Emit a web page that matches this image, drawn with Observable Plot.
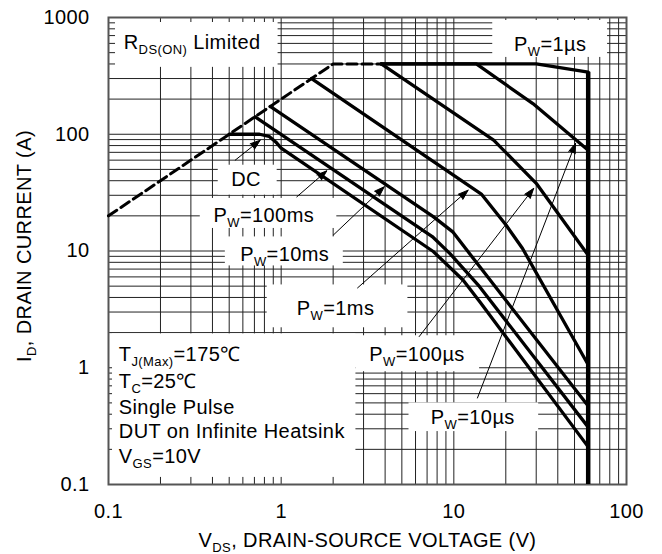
<!DOCTYPE html>
<html>
<head>
<meta charset="utf-8">
<script src="https://cdn.jsdelivr.net/npm/d3@7"></script>
<script src="https://cdn.jsdelivr.net/npm/@observablehq/plot@0.6"></script>
<style>
  body { margin: 0; background: #fff; }
  #chart { width: 662px; height: 554px; }
</style>
</head>
<body>
<div id="chart"></div>
<script>
// ---------- axis ticks ----------
const ticksX = [0.1, 1, 10, 100];
const ticksY = [0.1, 1, 10, 100, 1000];
const gridMult = [1, 2, 3, 4, 5, 6, 7, 8, 9];
const decadesX = [0.1, 1, 10];
const decadesY = [0.1, 1, 10, 100];

// ---------- RDS(ON) limit (dashed) ----------
const rdsV = [0.1, 2, 3.8];
const rdsI = [20, 400, 400];

// ---------- SOA curves (V, A) ----------
const seriesNames = ["1µs", "10µs", "100µs", "1ms", "10ms", "100ms", "DC"];
const v_1us   = [3.8, 30, 60];
const i_1us   = [400, 400, 340];
const v_10us  = [3.8, 13.5, 28.7, 60];
const i_10us  = [400, 400, 183, 73];
const v_100us = [3.8, 17, 30, 60];
const i_100us = [400, 89, 38, 9.2];
const v_1ms   = [1.5, 14.5, 20, 25, 60];
const i_1ms   = [300, 30.5, 16.8, 10.5, 1.06];
const v_10ms  = [0.864, 7.6, 9.9, 14.1, 60];
const i_10ms  = [173, 19.7, 14.5, 7.35, 0.47];
const v_100ms = [0.707, 7.5, 9.5, 14.1, 60];
const i_100ms = [141, 13.3, 9.5, 4.95, 0.31];
const v_DC    = [0.5, 0.75, 0.85, 0.93, 1.0, 7.6, 11.3, 14.1, 60];
const i_DC    = [100, 100, 96, 86, 76, 9.9, 5.65, 3.69, 0.21];

// BVDSS limit (thick vertical)
const vBreak = 60, iBreakTop = 340, iBreakBottom = 0.1;

// ---------- annotation arrows (tail -> tip) ----------
const arrowFor = ["DC", "100ms", "10ms", "1ms", "100µs", "10µs"];
const arrowV1 = [0.542, 1.232, 2.006, 2.77, 6.30, 13.7];
const arrowI1 = [60, 29.1, 13.7, 4.83, 1.85, 0.551];
const arrowV2 = [0.756, 1.837, 3.955, 12.1, 29.0, 50.7];
const arrowI2 = [88.9, 48.6, 35.5, 33.2, 34.4, 83.8];

// ---------- labels ----------
const labelText = ["R_{DS(ON)} Limited", "P_{W}=1µs", "DC", "P_{W}=100ms", "P_{W}=10ms", "P_{W}=1ms", "P_{W}=100µs", "P_{W}=10µs"];
const labelV = [0.1226, 22.3, 0.626, 0.406, 0.579, 1.232, 3.24, 7.36];
const labelI = [605, 588, 41.2, 20.3, 9.25, 3.24, 1.29, 0.371];
const labelAnchor = ["start", "start", "middle", "start", "start", "start", "start", "start"];

const condText = ["T_{J(Max)}=175℃", "T_{C}=25℃", "Single Pulse", "DUT on Infinite Heatsink", "V_{GS}=10V"];
const condV = 0.1147;
const condI = [1.29, 0.764, 0.452, 0.286, 0.175];

// white label backgrounds
const boxV1 = [0.1098, 16.8, 0.432, 0.340, 0.475, 0.830, 2.71, 5.50, 0.1055];
const boxV2 = [0.96, 77.7, 0.948, 2.10, 2.29, 5.42, 14.1, 31.0, 2.71];
const boxI1 = [374, 455, 30.1, 15.6, 7.45, 2.20, 0.925, 0.284, 0.115];
const boxI2 = [906, 943, 54.3, 28.2, 13.2, 5.12, 1.88, 0.50, 1.95];

const xTitle = "V_{DS}, DRAIN-SOURCE VOLTAGE (V)";
const yTitle = "I_{D}, DRAIN CURRENT (A)";

// ---------- build tables ----------
const gridX = decadesX.flatMap(d => gridMult.map(k => +(k * d).toPrecision(3))).concat([100]);
const gridY = decadesY.flatMap(d => gridMult.map(k => +(k * d).toPrecision(3))).concat([1000]);

const curveV = [v_1us, v_10us, v_100us, v_1ms, v_10ms, v_100ms, v_DC];
const curveI = [i_1us, i_10us, i_100us, i_1ms, i_10ms, i_100ms, i_DC];
const curveRows = seriesNames.flatMap((s, j) => curveV[j].map((v, k) => ({series: s, v, i: curveI[j][k]})));
const rdsRows = rdsV.map((v, k) => ({v, i: rdsI[k]}));
const arrows = arrowFor.map((s, k) => ({s, v1: arrowV1[k], i1: arrowI1[k], v2: arrowV2[k], i2: arrowI2[k]}));
const labels = labelText.map((t, k) => ({t, v: labelV[k], i: labelI[k], a: labelAnchor[k]}));
const conds = condText.map((t, k) => ({t, v: condV, i: condI[k]}));
const boxes = boxV1.map((v, k) => ({v1: v, v2: boxV2[k], i1: boxI1[k], i2: boxI2[k]}));

const FONT = "'Liberation Sans', Arial, Helvetica, sans-serif";
const FS = 20;

const marks = [
  Plot.ruleX(gridX, {stroke: "#222", strokeWidth: 1}),
  Plot.ruleY(gridY, {stroke: "#222", strokeWidth: 1}),
  Plot.rect(boxes, {x1: "v1", x2: "v2", y1: "i1", y2: "i2", fill: "white"}),
  Plot.frame({stroke: "#555", strokeWidth: 2}),
  Plot.line(rdsRows, {x: "v", y: "i", stroke: "black", strokeWidth: 3, strokeDasharray: "10,5"}),
  Plot.line(curveRows, {x: "v", y: "i", z: "series", stroke: "black", strokeWidth: 3.3, strokeLinejoin: "round"}),
  Plot.ruleX([vBreak], {y1: iBreakTop, y2: iBreakBottom, stroke: "black", strokeWidth: 4.5}),
  Plot.arrow(arrows, {x1: "v1", y1: "i1", x2: "v2", y2: "i2", stroke: "black", fill: "black", strokeWidth: 1, headLength: 16, headAngle: 38, strokeLinejoin: "miter"}),
  Plot.text(labels.filter(d => d.a === "start"), {x: "v", y: "i", text: "t", textAnchor: "start", fontSize: FS, fill: "black"}),
  Plot.text(labels.filter(d => d.a === "middle"), {x: "v", y: "i", text: "t", textAnchor: "middle", fontSize: FS, fill: "black"}),
  Plot.text(conds, {x: "v", y: "i", text: "t", textAnchor: "start", fontSize: FS, fill: "black"}),
  Plot.text([xTitle], {text: d => d, frameAnchor: "bottom", textAnchor: "middle", lineAnchor: "middle", dy: 56, fontSize: FS, fill: "black"}),
  Plot.text([yTitle], {text: d => d, frameAnchor: "left", textAnchor: "middle", lineAnchor: "middle", dx: -84, dy: -5, rotate: -90, fontSize: FS, fill: "black"})
];

let xOpts = {type: "log", domain: [0.1, 100]};
let yOpts = {type: "log", domain: [0.1, 1000]};
if (typeof Plot.axisX === "function") {
  marks.push(
    Plot.axisX(ticksX, {tickSize: 0, tickPadding: 19, tickFormat: d => String(d), fontSize: FS, label: null}),
    Plot.axisY(ticksY, {tickSize: 0, tickPadding: 19, tickFormat: d => String(d), fontSize: FS, label: null})
  );
} else {
  xOpts = {...xOpts, ticks: ticksX, tickSize: 0, tickPadding: 19, tickFormat: d => String(d), label: null};
  yOpts = {...yOpts, ticks: ticksY, tickSize: 0, tickPadding: 19, tickFormat: d => String(d), label: null};
}

const plot = Plot.plot({
  width: 662,
  height: 554,
  marginLeft: 108,
  marginRight: 36,
  marginTop: 17,
  marginBottom: 70,
  x: xOpts,
  y: yOpts,
  style: {fontFamily: FONT, fontSize: FS + "px", letterSpacing: "0.4px", color: "black", background: "white", overflow: "visible"},
  marks
});

// turn "_{...}" into real subscript tspans
function applySubscripts(root) {
  const NS = "http://www.w3.org/2000/svg";
  root.querySelectorAll("text").forEach(t => {
    const targets = t.querySelectorAll("tspan").length ? Array.from(t.querySelectorAll("tspan")) : [t];
    targets.forEach(el => {
      const s = el.textContent;
      if (!s.includes("_{")) return;
      const parts = s.split(/(_\{[^}]*\})/);
      while (el.firstChild) el.removeChild(el.firstChild);
      let shifted = false;
      for (const p of parts) {
        if (!p) continue;
        const ts = document.createElementNS(NS, "tspan");
        if (p.startsWith("_{")) {
          ts.textContent = p.slice(2, -1);
          ts.setAttribute("font-size", "13px");
          ts.setAttribute("dy", "5");
          shifted = true;
        } else {
          ts.textContent = p;
          if (shifted) { ts.setAttribute("dy", "-5"); shifted = false; }
        }
        el.appendChild(ts);
      }
    });
  });
}
applySubscripts(plot);
document.getElementById("chart").append(plot);
</script>
</body>
</html>
